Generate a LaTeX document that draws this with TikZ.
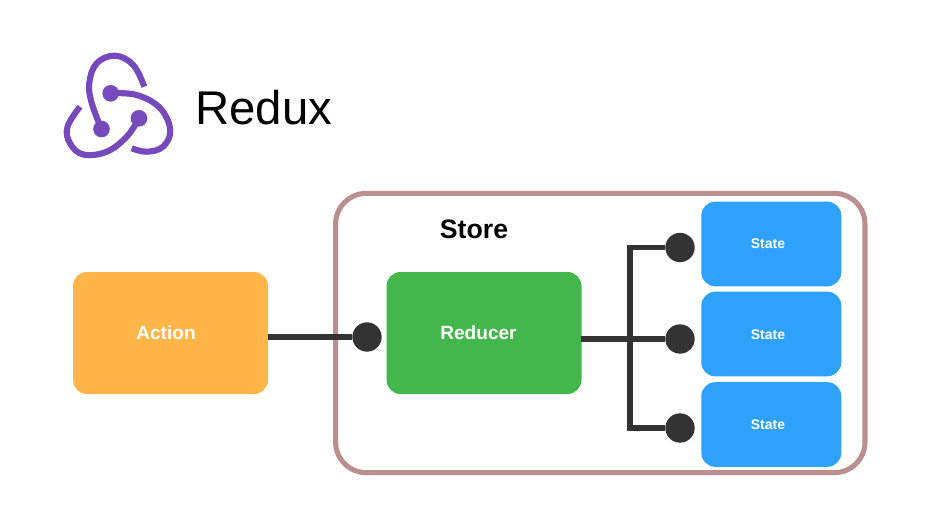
\documentclass[tikz,border=0pt]{standalone}
\usepackage{fontspec}
\setmainfont{Liberation Sans}
\definecolor{wire}{HTML}{333333}
\definecolor{framec}{HTML}{BC8F8F}
\definecolor{actionc}{HTML}{FFB547}
\definecolor{reducerc}{HTML}{43B74B}
\definecolor{statec}{HTML}{2EA1FB}
\definecolor{reduxc}{HTML}{764ABC}
\tikzset{
  box/.style={rectangle,rounded corners=10.5pt,inner sep=0pt},
  actionbox/.style={box,fill=actionc,minimum width=146.25pt,minimum height=91.5pt},
  reducerbox/.style={box,fill=reducerc,minimum width=146.25pt,minimum height=91.5pt},
  statebox/.style={box,fill=statec,minimum width=105pt,minimum height=63.5pt},
  storeframe/.style={rectangle,draw=framec,line width=3.8pt,rounded corners=23pt,minimum width=397pt,minimum height=209.5pt,inner sep=0pt},
  dotnode/.style={circle,fill=wire,minimum size=22pt,inner sep=0pt},
  wireline/.style={draw=wire,line width=3.8pt},
  logoarc/.style={draw=reduxc,line width=4.6pt},
  logodot/.style={circle,fill=reduxc,minimum size=12.5pt,inner sep=0pt},
  boxlabel/.style={inner sep=0pt,text=white,font=\bfseries\fontsize{14.3}{16}\selectfont},
  statelabel/.style={inner sep=0pt,text=white,font=\bfseries\fontsize{10.5}{12}\selectfont}
}
\begin{document}
\begin{tikzpicture}[x=.75pt,y=-.75pt]
\useasboundingbox (0,0) rectangle (941,529);
\fill[white] (0,0) rectangle (941,529);
% logo
\node[logodot] (ldot) at (101.5,129) {};
\node[logodot] (tdot) at (110.7,93.3) {};
\node[logodot] (rdot) at (139,118.3) {};
\draw[logoarc] plot[smooth,tension=.65] coordinates {(ldot.center) (91.7,103) (89.3,83) (96.7,63.3) (115,55.7) (133.3,65) (144.3,86.7)};
\draw[logoarc] plot[smooth,tension=.65] coordinates {(tdot.center) (136.7,95) (160,108) (170.2,130) (163,146.7) (146.7,151.7) (131.7,148.3)};
\draw[logoarc] plot[smooth,tension=.65] coordinates {(rdot.center) (126.7,136.7) (106.7,151.7) (83.3,154.5) (70,143.3) (67.5,126.7) (80,106.7)};
\node[anchor=base west,inner sep=0pt,font=\fontsize{35.5}{40}\selectfont] (title) at (195,124) {Redux};
% store
\node[storeframe] (store) at (600.3,333) {};
\node[anchor=center,inner sep=0pt,font=\bfseries\fontsize{20}{24}\selectfont] (storelabel) at (474,229) {Store};
% boxes
\node[actionbox] (action) at (170.5,333) {};
\node[boxlabel] (actionlabel) at (166,333) {Action};
\node[reducerbox] (reducer) at (484,333) {};
\node[boxlabel] (reducerlabel) at (478.5,333) {Reducer};
\node[statebox] (s1) at (771.3,244) {};
\node[statebox] (s2) at (771.3,334) {};
\node[statebox] (s3) at (771.3,424.5) {};
\node[statelabel] (s1label) at (768,243.5) {State};
\node[statelabel] (s2label) at (768,334.5) {State};
\node[statelabel] (s3label) at (768,424.5) {State};
% dots
\node[dotnode] (d0) at (367,337) {};
\node[dotnode] (d1) at (680,247.5) {};
\node[dotnode] (d2) at (680,339) {};
\node[dotnode] (d3) at (680,428) {};
\coordinate (top) at (630,247.5);
\coordinate (bot) at (630,428);
\coordinate (astart) at (268,337);
\coordinate (rstart) at (581,339);
\draw[wireline] (astart) -- (d0);
\draw[wireline] (rstart) -- (d2);
\draw[wireline,line cap=rect] (top) -- (bot);
\draw[wireline] (top) -- (d1);
\draw[wireline] (bot) -- (d3);
\end{tikzpicture}
\end{document}
